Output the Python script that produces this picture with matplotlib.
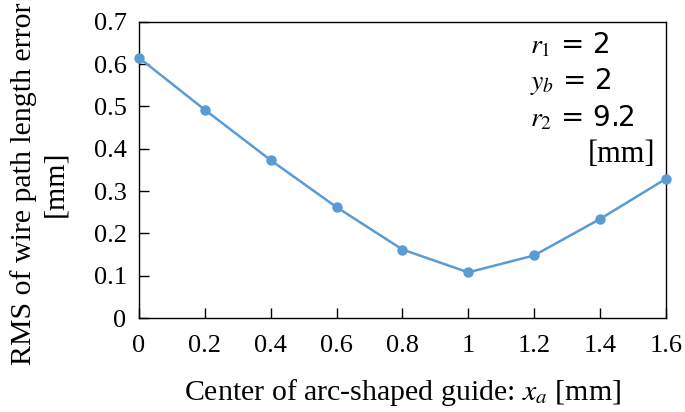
import matplotlib.pyplot as plt

plt.rcParams['font.family'] = ['Liberation Serif', 'DejaVu Serif']
plt.rcParams['mathtext.fontset'] = 'stix'

xa = [0, 0.2, 0.4, 0.6, 0.8, 1.0, 1.2, 1.4, 1.6]
rms = [0.615, 0.492, 0.373, 0.262, 0.162, 0.108, 0.148, 0.234, 0.329]
xticks = [0, 0.2, 0.4, 0.6, 0.8, 1, 1.2, 1.4, 1.6]
xticklabels = ['0', '0.2', '0.4', '0.6', '0.8', '1', '1.2', '1.4', '1.6']
yticks = [0, 0.1, 0.2, 0.3, 0.4, 0.5, 0.6, 0.7]
yticklabels = ['0', '0.1', '0.2', '0.3', '0.4', '0.5', '0.6', '0.7']

fig = plt.figure(figsize=(6.85, 4.12), dpi=100)
ax = fig.add_axes([0.203, 0.228, 0.769, 0.719])

ax.plot(xa, rms, color='#5B9BD5', lw=1.8, marker='o', ms=6.5, clip_on=False, zorder=3)

ax.set_xlim(0, 1.6)
ax.set_ylim(0, 0.7)
ax.set_xticks(xticks)
ax.set_xticklabels(xticklabels)
ax.set_yticks(yticks)
ax.set_yticklabels(yticklabels)
ax.tick_params(direction='in', length=7, width=1, labelsize=19)
ax.tick_params(axis='x', pad=12)
ax.tick_params(axis='y', pad=9)
ax.tick_params(top=False, right=False)
for s in ax.spines.values():
    s.set_linewidth(1.0)

ax.set_xlabel('Center of arc-shaped guide: $x_a$ [mm]', fontsize=21.5)
ax.xaxis.set_label_coords(0.5, -0.2)
ax.set_ylabel('RMS of wire path length error\n[mm]', fontsize=21.5, linespacing=1.25)
ax.yaxis.set_label_coords(-0.135, 0.452)

ax.text(0.742, 0.922, '$r_1$ = 2', transform=ax.transAxes, fontsize=20,
        ha='left', va='center', family='DejaVu Sans')
ax.text(0.742, 0.797, '$y_b$ = 2', transform=ax.transAxes, fontsize=20,
        ha='left', va='center', family='DejaVu Sans')
ax.text(0.742, 0.676, '$r_2$ = 9.2', transform=ax.transAxes, fontsize=20,
        ha='left', va='center', family='DejaVu Sans')
ax.text(0.979, 0.551, '[mm]', transform=ax.transAxes, fontsize=22,
        ha='right', va='center')

fig.savefig('out.png', dpi=100)
